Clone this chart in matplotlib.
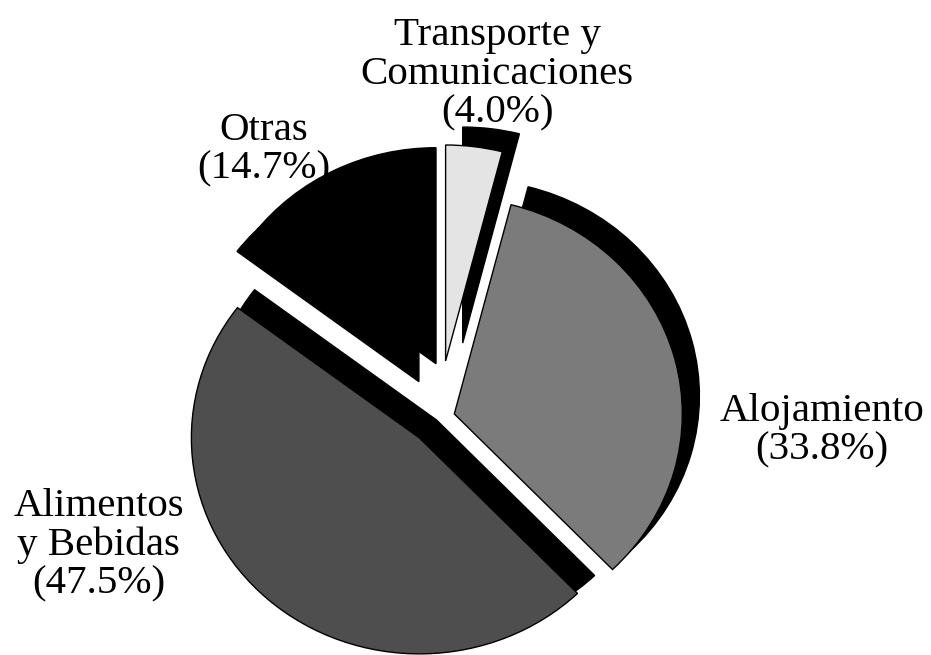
import numpy as np
import matplotlib
matplotlib.use("Agg")
from matplotlib import pyplot as plt
from matplotlib.patches import Wedge

# datos
categorias = ["Transporte y\nComunicaciones", "Alojamiento", "Alimentos\ny Bebidas", "Otras"]
porcentajes = [4.0, 33.8, 47.5, 14.7]

# estilo
colores = ["#e4e4e4", "#7b7b7b", "#4e4e4e", "#000000"]
explode = [0.266, 0.074, 0.123, 0.188]
# posicion de las etiquetas (fraccion de la figura)
pos_etiquetas = [(0.534, 0.887), (0.883, 0.343), (0.106, 0.167), (0.283, 0.771)]

plt.rcParams['font.family'] = ['Liberation Serif', 'DejaVu Serif']

fig = plt.figure(figsize=(9.31, 6.55), dpi=100)
ax = fig.add_axes([0, 0, 1, 1])

wedges, _ = ax.pie(porcentajes, explode=explode, colors=colores, startangle=90,
                   counterclock=False,
                   wedgeprops=dict(edgecolor='black', linewidth=1, zorder=2))

# sombra negra desplazada arriba a la derecha
dx, dy = 0.075, 0.083
for w in wedges:
    cx, cy = w.center
    ax.add_patch(Wedge((cx + dx, cy + dy), w.r, w.theta1, w.theta2,
                       facecolor='black', edgecolor='black', zorder=1))

# el original esta un poco aplastado en vertical
ax.set_aspect('auto')
ax.set_xlim(-438 / 228, 493 / 228)
ax.set_ylim((418 - 655) / 216, 418 / 216)
ax.axis('off')

for cat, pct, (x, y) in zip(categorias, porcentajes, pos_etiquetas):
    fig.text(x, y, "%s\n(%.1f%%)" % (cat, pct), ha='center', va='center',
             fontsize=29.5, linespacing=1.05, color='black')

fig.savefig("out.png", dpi=100)
